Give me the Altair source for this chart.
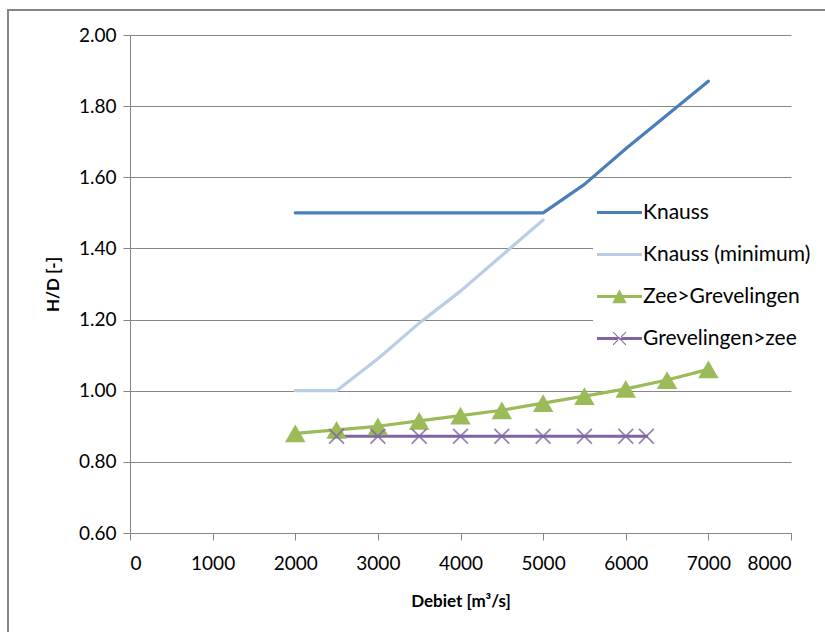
import altair as alt
import pandas as pd

# Series values (discharge in m3/s vs. relative height H/D)
knauss_q = [2000, 2500, 3000, 3500, 4000, 4500, 5000, 5500, 6000, 6500, 7000]
knauss_hd = [1.50, 1.50, 1.50, 1.50, 1.50, 1.50, 1.50, 1.58, 1.68, 1.775, 1.87]

knauss_min_q = [2000, 2500, 3000, 3500, 4000, 4500, 5000]
knauss_min_hd = [1.00, 1.00, 1.09, 1.19, 1.28, 1.38, 1.48]

zee_q = [2000, 2500, 3000, 3500, 4000, 4500, 5000, 5500, 6000, 6500, 7000]
zee_hd = [0.88, 0.89, 0.90, 0.915, 0.93, 0.945, 0.965, 0.985, 1.005, 1.03, 1.06]

grev_q = [2500, 3000, 3500, 4000, 4500, 5000, 5500, 6000, 6250]
grev_hd = [0.872, 0.872, 0.872, 0.872, 0.872, 0.872, 0.872, 0.872, 0.872]

series_names = ["Knauss", "Knauss (minimum)", "Zee>Grevelingen", "Grevelingen>zee"]
series_colors = ["#4A7EBB", "#B9CDE5", "#9BBB59", "#8064A2"]

x_ticks = [0, 1000, 2000, 3000, 4000, 5000, 6000, 7000, 8000]
y_ticks = [0.60, 0.80, 1.00, 1.20, 1.40, 1.60, 1.80, 2.00]

# Legend glyphs: a short line, optionally with the series marker on top
legend_shapes = [
    "M-1,-0.07H1V0.07H-1Z",
    "M-1,-0.07H1V0.07H-1Z",
    "M-1,-0.07H1V0.07H-1Z M-0.32,0.3L0,-0.32L0.32,0.3Z",
    "M-1,-0.07H1V0.07H-1Z M-0.3,-0.27L-0.27,-0.3L0.3,0.27L0.27,0.3Z M0.3,-0.27L0.27,-0.3L-0.3,0.27L-0.27,0.3Z",
]


def frame(name, q, hd):
    return pd.DataFrame({"series": name, "Q": q, "HD": hd})


df = pd.concat([
    frame(series_names[0], knauss_q, knauss_hd),
    frame(series_names[1], knauss_min_q, knauss_min_hd),
    frame(series_names[2], zee_q, zee_hd),
    frame(series_names[3], grev_q, grev_hd),
], ignore_index=True)

FONT = "Lato"
GRID = "#868686"

color_scale = alt.Scale(domain=series_names, range=series_colors)

x_enc = alt.X(
    "Q:Q",
    scale=alt.Scale(domain=[0, 8000], nice=False),
    axis=alt.Axis(
        values=x_ticks, format="d", title="Debiet [m³/s]",
        grid=False, labelPadding=14, titlePadding=20,
    ),
)
y_enc = alt.Y(
    "HD:Q",
    scale=alt.Scale(domain=[0.6, 2.0], nice=False, zero=False),
    axis=alt.Axis(
        values=y_ticks, format=".2f", title="H/D [-]",
        grid=True, labelPadding=7, titlePadding=16,
    ),
)

base = alt.Chart(df)

lines = base.mark_line(strokeWidth=3.2, strokeCap="round", strokeJoin="round").encode(
    x=x_enc,
    y=y_enc,
    color=alt.Color("series:N", scale=color_scale, legend=None),
    detail="series:N",
)

triangles = base.transform_filter(
    alt.datum.series == series_names[2]
).mark_point(shape="triangle-up", filled=True, size=420, opacity=1).encode(
    x="Q:Q",
    y="HD:Q",
    color=alt.Color("series:N", scale=color_scale, legend=None),
)

crosses = base.transform_filter(
    alt.datum.series == series_names[3]
).mark_point(shape="M-1,-1L1,1M-1,1L1,-1", filled=False, size=220,
             strokeWidth=1.8, opacity=0.8).encode(
    x="Q:Q",
    y="HD:Q",
    color=alt.Color("series:N", scale=color_scale, legend=None),
)

legend_props = dict(
    title=None, orient="none", legendX=463, legendY=151,
    symbolSize=2025, rowPadding=9, labelOffset=1, labelLimit=400,
    labelFont=FONT, labelFontSize=21, labelColor="#000000",
    fillColor="#FFFFFF", padding=4, symbolStrokeWidth=0,
    symbolOpacity=1,
)

# Invisible layer that carries the legend (line + marker glyphs)
legend_df = pd.DataFrame({"series": series_names})
legend_layer = alt.Chart(legend_df).mark_point(filled=True, opacity=0, size=2025).encode(
    x=alt.value(0),
    y=alt.value(0),
    color=alt.Color("series:N", scale=color_scale, legend=alt.Legend(**legend_props)),
    shape=alt.Shape(
        "series:N",
        scale=alt.Scale(domain=series_names, range=legend_shapes),
        legend=alt.Legend(**legend_props),
    ),
)

# Outer chart border
border = alt.Chart(legend_df).mark_rect(
    fill=None, stroke=GRID, strokeWidth=2, clip=False
).encode(
    x=alt.value(-122), x2=alt.value(720),
    y=alt.value(-25), y2=alt.value(640),
)

chart = alt.layer(border, lines, triangles, crosses, legend_layer).resolve_scale(
    color="independent", shape="independent"
).resolve_legend(
    color="independent", shape="independent"
).properties(
    width=661, height=498,
    autosize=alt.AutoSizeParams(type="none"),
    padding={"left": 130, "top": 35, "right": 34, "bottom": 99},
    background="#FFFFFF",
).configure_view(
    stroke=None
).configure_axis(
    labelFont=FONT, labelFontSize=19, labelColor="#000000",
    titleFont=FONT, titleFontSize=17, titleFontWeight="bold", titleColor="#000000",
    domainColor=GRID, domainWidth=1, tickColor=GRID, tickSize=7, tickWidth=1,
    gridColor=GRID, gridWidth=1,
)

chart.save("out.html", embed_options={"renderer": "svg", "actions": False})
